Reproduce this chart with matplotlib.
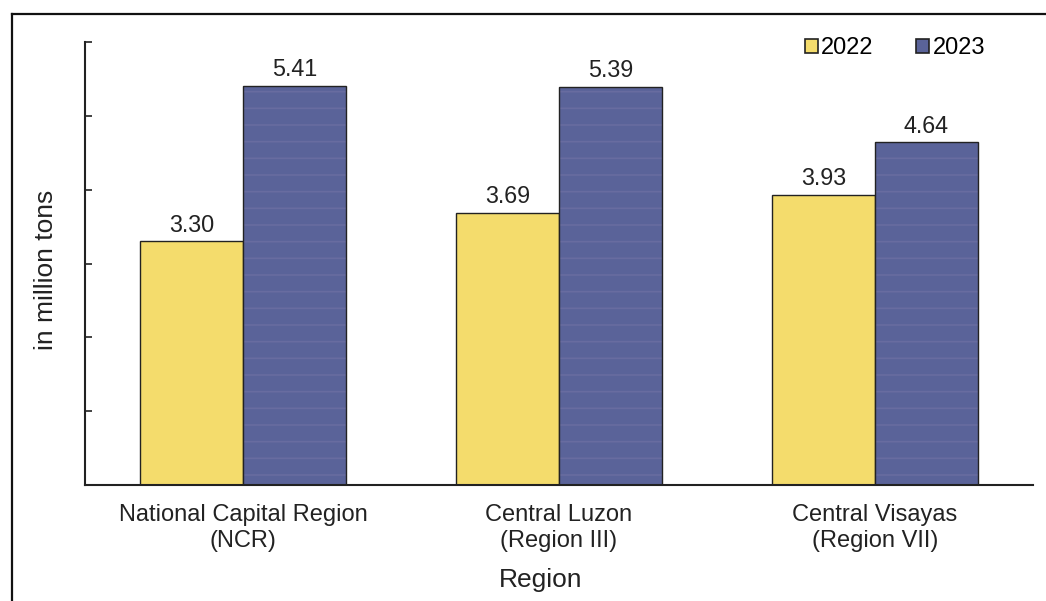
import matplotlib
matplotlib.use('Agg')
import matplotlib.pyplot as plt
from matplotlib.lines import Line2D
from matplotlib.patches import Patch
import numpy as np

plt.rcParams['font.family'] = ['Liberation Sans', 'DejaVu Sans']
plt.rcParams['hatch.linewidth'] = 1.2

# data
regions = ['National Capital Region\n(NCR)', 'Central Luzon\n(Region III)',
           'Central Visayas\n(Region VII)']
years = ['2022', '2023']
vals_2022 = [3.30, 3.69, 3.93]
vals_2023 = [5.41, 5.39, 4.64]

yellow = '#f4dc6c'
blue = '#5a6399'
stripe = '#686ca0'

W, H = 1046, 601
fig = plt.figure(figsize=(W / 100, H / 100), dpi=100)
ax = fig.add_axes([85 / W, 1 - 485 / H, (1033 - 85) / W, (485 - 42) / H])

x = np.arange(len(regions))
bw = 0.325

ax.bar(x - bw / 2, vals_2022, bw, color=yellow, edgecolor='#222222', linewidth=1.0)
# 2023 bars: striped fill, then outline on top
ax.bar(x + bw / 2, vals_2023, bw, color=blue, edgecolor=stripe, hatch='-', linewidth=0)
ax.bar(x + bw / 2, vals_2023, bw, fill=False, edgecolor='#222222', linewidth=1.0)

for xi, v in zip(x - bw / 2, vals_2022):
    ax.annotate(f'{v:.2f}', (xi, v), xytext=(0, 7), textcoords='offset points',
                ha='center', va='baseline', fontsize=16.8, color='#222222')
for xi, v in zip(x + bw / 2, vals_2023):
    ax.annotate(f'{v:.2f}', (xi, v), xytext=(0, 7), textcoords='offset points',
                ha='center', va='baseline', fontsize=16.8, color='#222222')

ax.set_xlim(-0.5, 2.5)
ax.set_ylim(0, 6)
ax.set_yticks(np.arange(0, 7, 1))
ax.set_yticklabels([])
ax.tick_params(axis='y', direction='in', length=5, width=1.2, color='#222222')
ax.set_xticks(x)
ax.set_xticklabels(regions, fontsize=17, color='#222222', linespacing=1.22)
ax.tick_params(axis='x', length=0, pad=14)

for s in ['top', 'right']:
    ax.spines[s].set_visible(False)
for s in ['left', 'bottom']:
    ax.spines[s].set_linewidth(1.5)
    ax.spines[s].set_color('#222222')

ax.set_ylabel('in million tons', fontsize=19, color='#222222')
ax.yaxis.set_label_coords(-0.028, 0.485)
ax.set_xlabel('Region', fontsize=19, color='#222222')
ax.xaxis.set_label_coords(0.481, -0.188)

handles = [Patch(facecolor=yellow, edgecolor='#222222', linewidth=1.2),
           Patch(facecolor=blue, edgecolor='#222222', linewidth=1.2)]
fig.legend(handles, years, loc='center', bbox_to_anchor=(895 / W, 1 - 48 / H),
           ncol=2, frameon=False, fontsize=17, handlelength=0.55, handleheight=0.55,
           handletextpad=0.15, columnspacing=1.8, borderpad=0)

# outer frame of the scanned page (left and top edges)
fig.add_artist(Line2D([12 / W, 12 / W], [0, 1 - 14 / H], color='#111111',
                      linewidth=1.6, transform=fig.transFigure))
fig.add_artist(Line2D([12 / W, 1], [1 - 14 / H, 1 - 14 / H], color='#111111',
                      linewidth=1.6, transform=fig.transFigure))

fig.savefig('out.png', dpi=100)
